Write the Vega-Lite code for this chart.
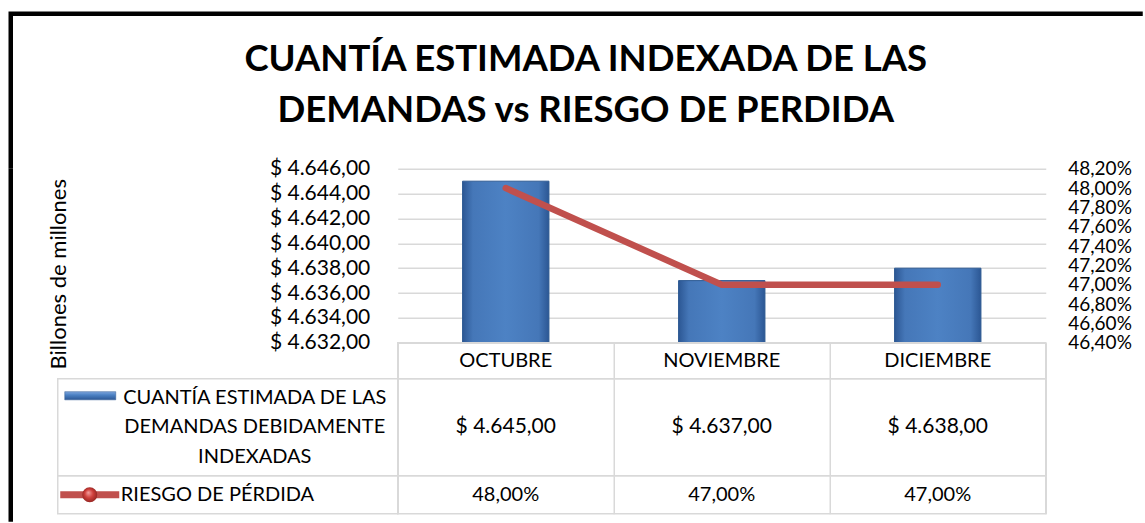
{
  "$schema": "https://vega.github.io/schema/vega-lite/v6.json",
  "padding": {"left": 7.75, "top": 10.75, "right": 0, "bottom": 0},
  "config": {
    "view": {"stroke": null},
    "font": "Lato",
    "text": {"font": "Lato", "color": "#000"},
    "axis": {"labelFont": "Lato", "titleFont": "Lato"},
    "title": {"font": "Lato"},
    "locale": {"number": {"decimal": ",", "thousands": ".", "grouping": [3], "currency": ["$ ", ""]}}
  },
  "datasets": {
    "datos": [
      {"mes": "OCTUBRE", "cuantia": 4645, "riesgo": 0.48},
      {"mes": "NOVIEMBRE", "cuantia": 4637, "riesgo": 0.47},
      {"mes": "DICIEMBRE", "cuantia": 4638, "riesgo": 0.47}
    ],
    "series": [
      {"serie": "CUANTÍA ESTIMADA DE LAS\nDEMANDAS DEBIDAMENTE\nINDEXADAS", "tipo": "cuantia"},
      {"serie": "RIESGO DE PÉRDIDA", "tipo": "riesgo"}
    ]
  },
  "bounds": "flush",
  "spacing": 0,
  "vconcat": [
    {
      "width": 1132,
      "height": 155,
      "data": {"values": [{}]},
      "mark": {"type": "text", "text": ""},
      "view": {"stroke": "#000", "strokeWidth": 4.5, "strokeDash": [1132, 1287, 155]},
      "title": {
        "text": ["CUANTÍA ESTIMADA INDEXADA DE LAS", "DEMANDAS vs RIESGO DE PERDIDA"],
        "font": "Lato",
        "fontSize": 36.5,
        "fontWeight": "bold",
        "color": "#000",
        "anchor": "middle",
        "frame": "group",
        "lineHeight": 51,
        "offset": -116,
        "dx": 9
      }
    },
    {
      "hconcat": [
        {
          "width": 47,
          "height": 353,
          "data": {"values": [{}]},
          "mark": {"type": "text", "text": ""},
          "view": {"stroke": "#000", "strokeWidth": 4.5, "strokeDash": [0, 447, 353]}
        },
        {
          "columns": 2,
          "spacing": 0,
          "bounds": "flush",
          "align": "each",
          "concat": [
            {
              "width": 340,
              "height": 174,
              "data": {"values": [{}]},
              "mark": {"type": "text", "text": ""}
            },
            {
              "width": 648,
              "height": 174,
              "data": {"name": "datos"},
              "encoding": {
                "x": {"field": "mes", "type": "nominal", "sort": null, "scale": {"paddingInner": 0.6, "paddingOuter": 0.3}, "axis": null}
              },
              "layer": [
                {
                  "mark": {
                    "type": "bar",
                    "clip": true,
                    "color": {
                      "gradient": "linear", "x1": 0, "x2": 1, "y1": 0, "y2": 0,
                      "stops": [
                        {"offset": 0, "color": "#2c5794"},
                        {"offset": 0.12, "color": "#4577b8"},
                        {"offset": 0.5, "color": "#4d82c4"},
                        {"offset": 0.88, "color": "#4577b8"},
                        {"offset": 1, "color": "#2c5794"}
                      ]
                    },
                    "stroke": "#2f5b93",
                    "strokeWidth": 1
                  },
                  "encoding": {
                    "y": {
                      "field": "cuantia", "type": "quantitative",
                      "scale": {"domain": [4632, 4646], "zero": false, "nice": false},
                      "axis": {
                        "values": [4632, 4634, 4636, 4638, 4640, 4642, 4644, 4646],
                        "format": "$,.2f",
                        "labelFontSize": 21, "labelColor": "#000", "labelPadding": 28,
                        "ticks": false, "domain": false,
                        "grid": true, "gridColor": "#d9d9d9", "gridWidth": 1.5,
                        "labelOverlap": false, "labelBound": false, "labelFlush": false,
                        "title": "Billones de millones",
                        "titleFontSize": 22, "titleFontWeight": "normal", "titleColor": "#000",
                        "titlePadding": 199, "titleY": 105
                      }
                    }
                  }
                },
                {
                  "mark": {"type": "line", "color": "#c0504d", "strokeWidth": 6.5, "strokeCap": "round", "strokeJoin": "round"},
                  "encoding": {
                    "y": {
                      "field": "riesgo", "type": "quantitative",
                      "scale": {"domain": [0.464, 0.482], "zero": false, "nice": false},
                      "axis": {
                        "orient": "right",
                        "values": [0.464, 0.466, 0.468, 0.47, 0.472, 0.474, 0.476, 0.478, 0.48, 0.482],
                        "format": ".2%",
                        "labelFontSize": 19, "labelColor": "#000", "labelPadding": 22,
                        "ticks": false, "domain": false, "grid": false, "title": null,
                        "labelOverlap": false, "labelBound": false, "labelFlush": false
                      }
                    }
                  }
                }
              ],
              "resolve": {"scale": {"y": "independent"}}
            },
            {
              "width": 340,
              "height": 36,
              "data": {"values": [{}]},
              "mark": {"type": "text", "text": ""}
            },
            {
              "width": 648,
              "height": 36,
              "data": {"name": "datos"},
              "view": {"stroke": "#d9d9d9", "strokeWidth": 1.5},
              "mark": {"type": "text", "fontSize": 20, "color": "#000"},
              "encoding": {
                "x": {"field": "mes", "type": "nominal", "sort": null, "scale": {"paddingInner": 0, "paddingOuter": 0},
                  "axis": {"grid": true, "tickBand": "extent", "labels": false, "ticks": false, "domain": false, "title": null, "gridColor": "#d9d9d9", "gridWidth": 1.5}},
                "text": {"field": "mes"}
              }
            },
            {
              "width": 340,
              "height": 97,
              "data": {"name": "series"},
              "transform": [{"filter": "datum.tipo == 'cuantia'"}],
              "view": {"stroke": "#d9d9d9", "strokeWidth": 1.5},
              "layer": [
                {
                  "mark": {
                    "type": "point", "shape": "M-1,-0.16H1V0.16H-1Z", "size": 2601, "filled": true, "opacity": 1,
                    "fill": {
                      "gradient": "linear", "x1": 0, "x2": 0, "y1": 0, "y2": 1,
                      "stops": [
                        {"offset": 0, "color": "#7fa6dc"},
                        {"offset": 0.4, "color": "#4d82c4"},
                        {"offset": 1, "color": "#2c5794"}
                      ]
                    },
                    "stroke": "#2f5b93", "strokeWidth": 0.5,
                    "xOffset": -137.5, "yOffset": -31.5
                  },
                  "encoding": {}
                },
                {
                  "mark": {"type": "text", "lineBreak": "\n", "lineHeight": 29.5, "fontSize": 20, "align": "center", "dx": 27, "dy": -29.5, "color": "#000"},
                  "encoding": {"text": {"field": "serie"}}
                }
              ]
            },
            {
              "width": 648,
              "height": 97,
              "data": {"name": "datos"},
              "view": {"stroke": "#d9d9d9", "strokeWidth": 1.5},
              "mark": {"type": "text", "fontSize": 21, "color": "#000"},
              "encoding": {
                "x": {"field": "mes", "type": "nominal", "sort": null, "scale": {"paddingInner": 0, "paddingOuter": 0},
                  "axis": {"grid": true, "tickBand": "extent", "labels": false, "ticks": false, "domain": false, "title": null, "gridColor": "#d9d9d9", "gridWidth": 1.5}},
                "text": {"field": "cuantia", "type": "quantitative", "format": "$,.2f"}
              }
            },
            {
              "width": 340,
              "height": 38,
              "data": {"name": "series"},
              "transform": [{"filter": "datum.tipo == 'riesgo'"}],
              "view": {"stroke": "#d9d9d9", "strokeWidth": 1.5},
              "layer": [
                {
                  "mark": {"type": "point", "shape": "M-1,-0.12H1V0.12H-1Z", "size": 3481, "filled": true, "opacity": 1, "fill": "#c0504d", "xOffset": -138},
                  "encoding": {}
                },
                {
                  "mark": {
                    "type": "point", "shape": "circle", "size": 227, "filled": true, "opacity": 1,
                    "fill": {
                      "gradient": "radial", "x1": 0.4, "y1": 0.35, "r1": 0, "x2": 0.5, "y2": 0.5, "r2": 0.55,
                      "stops": [
                        {"offset": 0, "color": "#f2a0a0"},
                        {"offset": 0.5, "color": "#d0403c"},
                        {"offset": 1, "color": "#8e2320"}
                      ]
                    },
                    "xOffset": -138
                  },
                  "encoding": {}
                },
                {
                  "mark": {"type": "text", "fontSize": 20, "align": "left", "dx": -107, "color": "#000"},
                  "encoding": {"text": {"field": "serie"}}
                }
              ]
            },
            {
              "width": 648,
              "height": 38,
              "data": {"name": "datos"},
              "view": {"stroke": "#d9d9d9", "strokeWidth": 1.5},
              "mark": {"type": "text", "fontSize": 20, "color": "#000"},
              "encoding": {
                "x": {"field": "mes", "type": "nominal", "sort": null, "scale": {"paddingInner": 0, "paddingOuter": 0},
                  "axis": {"grid": true, "tickBand": "extent", "labels": false, "ticks": false, "domain": false, "title": null, "gridColor": "#d9d9d9", "gridWidth": 1.5}},
                "text": {"field": "riesgo", "type": "quantitative", "format": ".2%"}
              }
            }
          ]
        }
      ],
      "spacing": 0,
      "bounds": "flush"
    }
  ]
}
